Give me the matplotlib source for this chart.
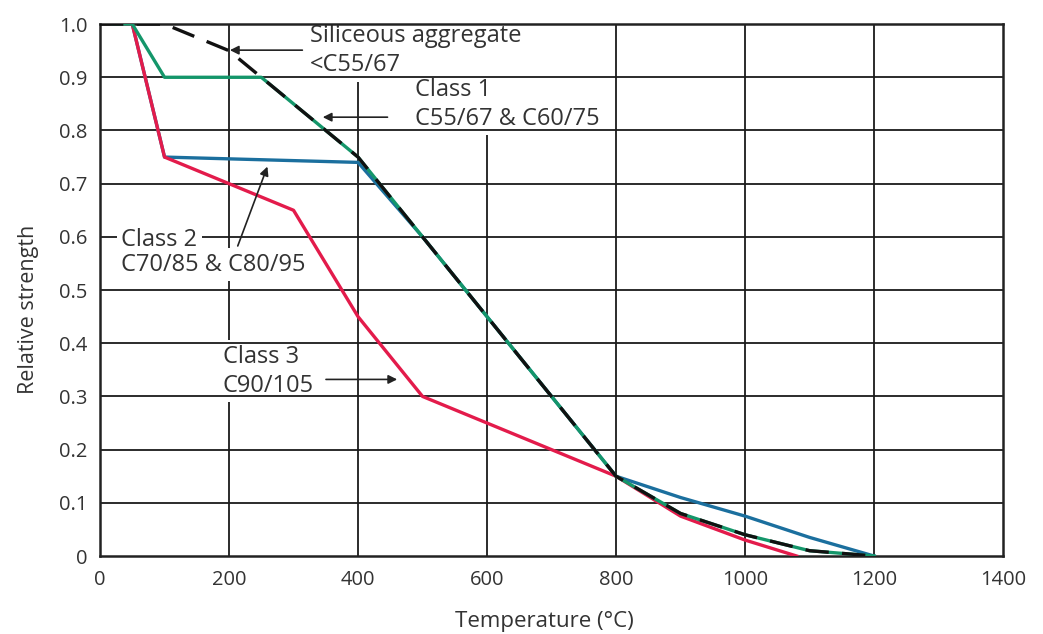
import matplotlib.pyplot as plt

plt.rcParams['font.family'] = ['Open Sans', 'DejaVu Sans']

# ---- data: relative compressive strength vs temperature ----
siliceous_t = [0, 100, 200, 300, 400, 500, 600, 700, 800, 900, 1000, 1100, 1200]
siliceous_k = [1.0, 1.0, 0.95, 0.85, 0.75, 0.60, 0.45, 0.30, 0.15, 0.08, 0.04, 0.01, 0.0]

class1_t = [20, 50, 100, 250, 400, 500, 600, 700, 800, 900, 1000, 1100, 1200]
class1_k = [1.0, 1.0, 0.90, 0.90, 0.75, 0.60, 0.45, 0.30, 0.15, 0.08, 0.04, 0.01, 0.0]

class2_t = [20, 50, 100, 400, 500, 600, 700, 800, 900, 1000, 1100, 1200]
class2_k = [1.0, 1.0, 0.75, 0.74, 0.60, 0.45, 0.30, 0.15, 0.11, 0.075, 0.035, 0.0]

class3_t = [20, 50, 100, 200, 300, 400, 500, 600, 700, 800, 900, 1000, 1080]
class3_k = [1.0, 1.0, 0.75, 0.70, 0.65, 0.45, 0.30, 0.25, 0.20, 0.15, 0.075, 0.03, 0.0]

x_ticks = [0, 200, 400, 600, 800, 1000, 1200, 1400]
y_ticks = [0, 0.1, 0.2, 0.3, 0.4, 0.5, 0.6, 0.7, 0.8, 0.9, 1.0]
y_ticklabels = ['0', '0.1', '0.2', '0.3', '0.4', '0.5', '0.6', '0.7', '0.8', '0.9', '1.0']

TEXT_COLOR = '#333333'
GRID_COLOR = '#1a1a1a'

fig = plt.figure(figsize=(10.43, 6.34), dpi=100)
ax = fig.add_axes([0.0959, 0.1230, 0.8658, 0.8390])

# grid drawn by hand: verticals sit under the label boxes, horizontals over them
# (except 0.6, which runs into the "Class 2" label)
for t in x_ticks[1:-1]:
    ax.axvline(t, color=GRID_COLOR, lw=1.3, zorder=1)
for k in y_ticks[1:-1]:
    ax.axhline(k, color=GRID_COLOR, lw=1.3, zorder=1 if k == 0.6 else 2)

ax.plot(class2_t, class2_k, color='#1b6f9e', lw=2.4, zorder=3)
ax.plot(class3_t, class3_k, color='#e31b4b', lw=2.4, zorder=4)
ax.plot(class1_t, class1_k, color='#14966a', lw=2.4, zorder=5)
ax.plot(siliceous_t, siliceous_k, color='#111111', lw=2.4, ls=(0, (7, 4)), zorder=6)

ax.set_xlim(0, 1400)
ax.set_ylim(0, 1.0)
ax.set_xticks(x_ticks)
ax.set_xticklabels([str(t) for t in x_ticks])
ax.set_yticks(y_ticks)
ax.set_yticklabels(y_ticklabels)
ax.tick_params(length=0, labelsize=14.5, colors=TEXT_COLOR)
ax.tick_params(axis='x', pad=10)
ax.tick_params(axis='y', pad=9)
for s in ax.spines.values():
    s.set_linewidth(1.8)
    s.set_color('#222222')

ax.set_xlabel('Temperature (\u00b0C)', fontsize=16, color=TEXT_COLOR)
ax.set_ylabel('Relative strength', fontsize=15.5, color=TEXT_COLOR)
ax.xaxis.set_label_coords(0.492, -0.103)
ax.yaxis.set_label_coords(-0.068, 0.464)

# ---- annotations ----
box = dict(facecolor='white', edgecolor='none', pad=3)
txt = dict(fontsize=17, color=TEXT_COLOR, va='center', ha='left', linespacing=1.3,
           bbox=box, zorder=1.5)
arrow = dict(arrowstyle='-|>', color='#222222', lw=1.2, mutation_scale=13)

ax.text(326, 0.95, 'Siliceous aggregate\n<C55/67', **txt)
ax.annotate('', xy=(197, 0.951), xytext=(318, 0.951), arrowprops=arrow, zorder=7)

ax.text(488, 0.849, 'Class 1\nC55/67 & C60/75', **txt)
ax.annotate('', xy=(341, 0.825), xytext=(450, 0.825), arrowprops=arrow, zorder=7)

ax.text(33, 0.595, 'Class 2', **txt)
ax.text(33, 0.548, 'C70/85 & C80/95', **txt)
ax.annotate('', xy=(261, 0.737), xytext=(212, 0.578), arrowprops=arrow, zorder=7)

ax.text(190, 0.347, 'Class 3\nC90/105', **txt)
ax.annotate('', xy=(465, 0.332), xytext=(346, 0.332), arrowprops=arrow, zorder=7)

fig.savefig('out.png', dpi=100)
